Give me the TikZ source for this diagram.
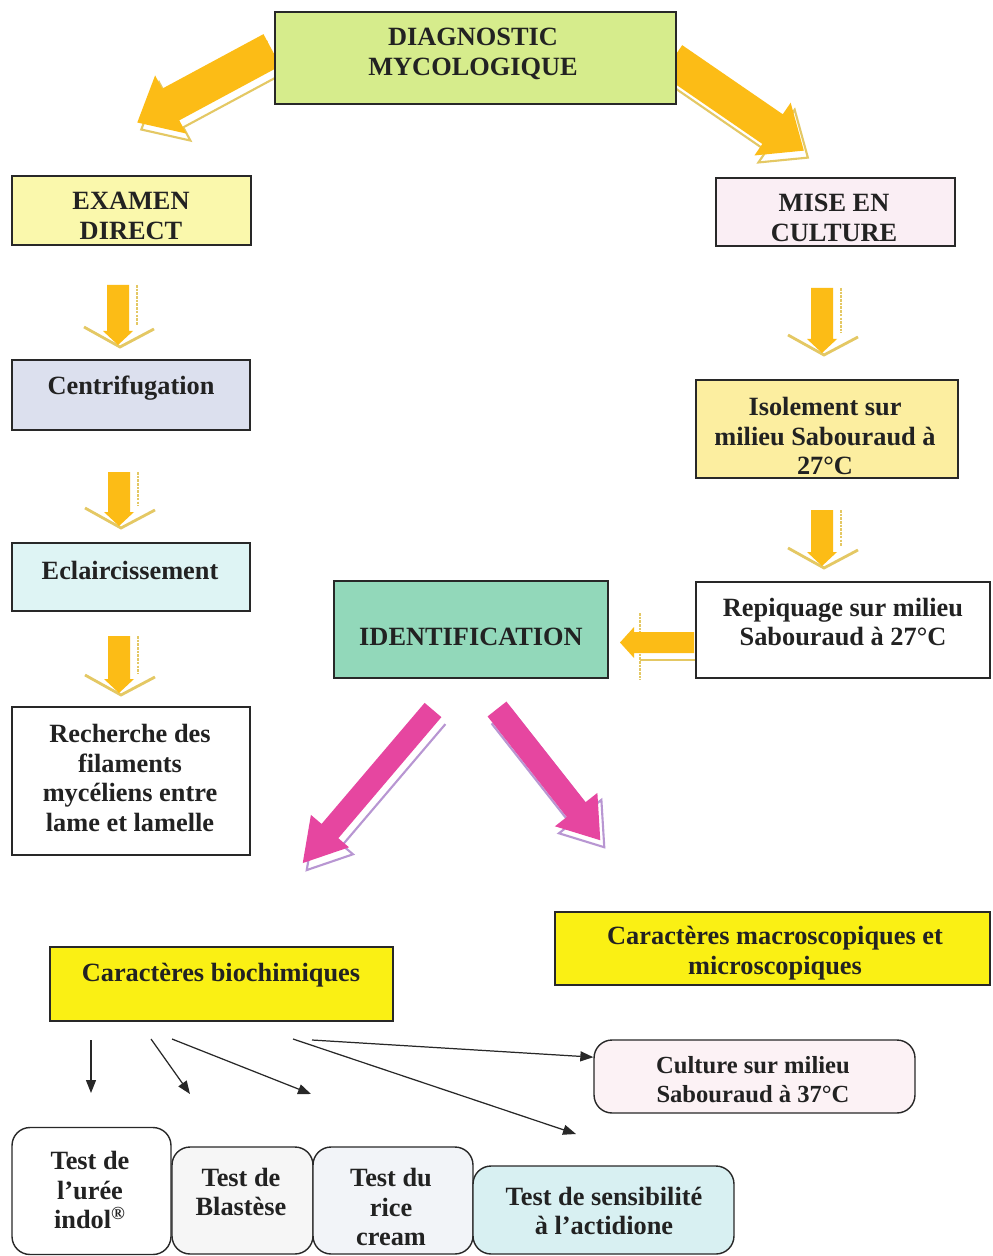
\documentclass[tikz,border=0pt]{standalone}
\usepackage{fontspec}
\setmainfont{Liberation Serif}
\usetikzlibrary{arrows.meta,calc}
\definecolor{cdiag}{RGB}{214,236,140}
\definecolor{cexam}{RGB}{250,248,172}
\definecolor{cmise}{RGB}{250,238,244}
\definecolor{ccent}{RGB}{220,224,238}
\definecolor{cecl}{RGB}{222,244,244}
\definecolor{cisol}{RGB}{252,238,160}
\definecolor{cident}{RGB}{146,216,186}
\definecolor{cyel}{RGB}{250,240,20}
\definecolor{ccult}{RGB}{252,242,245}
\definecolor{cblas}{RGB}{246,246,246}
\definecolor{crice}{RGB}{242,244,248}
\definecolor{csens}{RGB}{216,240,242}
\definecolor{corange}{RGB}{252,188,22}
\definecolor{cshadO}{RGB}{228,200,100}
\definecolor{cpink}{RGB}{230,70,160}
\definecolor{cshadP}{RGB}{184,150,210}
\definecolor{ctext}{RGB}{34,34,34}
\definecolor{cline}{RGB}{40,40,40}
\tikzset{
  box/.style={draw=cline, line width=0.8pt, inner sep=0pt},
  rbox/.style={box, rounded corners=0.36cm},
  txt/.style={font=\fontsize{15}{17}\selectfont\bfseries, align=center, text=ctext, inner sep=0pt},
  txts/.style={txt, font=\fontsize{14}{16.5}\selectfont\bfseries},
  thinarr/.style={draw=cline, line width=0.7pt, -{Triangle[length=0.26cm,width=0.2cm]}},
}
% block arrow: x y angle length shafthalf headhalf headlength fill shadow
\newcommand{\blockarrow}[9]{%
  \begin{scope}[shift={(#1+4,#2+7)},rotate=#3]
    \draw[draw=#9, fill=white, line width=1.2pt] (0,-#5) -- (#4-#7,-#5) -- (#4-#7,-#6) -- (#4,0) -- (#4-#7,#6) -- (#4-#7,#5) -- (0,#5);
  \end{scope}
  \begin{scope}[shift={(#1,#2)},rotate=#3]
    \fill[#8] (0,-#5) -- (#4-#7,-#5) -- (#4-#7,-#6) -- (#4,0) -- (#4-#7,#6) -- (#4-#7,#5) -- (0,#5) -- cycle;
  \end{scope}}
% down arrow: cx ytop ytip
\newcommand{\downarr}[3]{%
  \draw[cshadO, line width=0.8pt, dash pattern=on 1.5pt off 0.6pt] (#1+19,#2) -- (#1+19,#3-20);
  \draw[cshadO, line width=1.6pt] (#1-34,#3-18) -- (#1+2,#3+2) -- (#1+36,#3-16);
  \fill[corange] (#1-11,#2) -- (#1+11,#2) -- (#1+11,#3-14) -- (#1+15,#3-14) -- (#1,#3) -- (#1-15,#3-14) -- (#1-11,#3-14) -- cycle;}
\begin{document}
\begin{tikzpicture}[x=0.02cm, y=-0.02cm]
\useasboundingbox (0,0) rectangle (992,1256);
\fill[white] (0,0) rectangle (992,1256);

% big block arrows
\blockarrow{272}{50}{208.3}{153}{18}{33}{38}{corange}{cshadO}
\blockarrow{672}{60}{-34.5}{160}{18}{32}{38}{corange}{cshadO}
\blockarrow{433}{710}{229.6}{201}{11}{25}{42}{cpink}{cshadP}
\blockarrow{497}{709}{-51.8}{167}{12}{27}{39}{cpink}{cshadP}

% small down arrows
\downarr{118}{285}{345}
\downarr{119}{472}{526}
\downarr{119}{636}{693}
\downarr{822}{288}{353}
\downarr{822}{510}{566}

% left arrow repiquage -> identification
\draw[cshadO, line width=0.8pt, dash pattern=on 1.5pt off 0.6pt] (640,613) -- (640,680);
\draw[cshadO, line width=1.6pt] (640,660) -- (697,660);
\fill[corange] (694,632) -- (694,653) -- (634,653) -- (634,658) -- (620,642.5) -- (634,627) -- (634,632) -- cycle;

% boxes
\node[box, fill=cdiag, minimum width=8.02cm, minimum height=1.84cm] (diag) at (475.5,58) {};
\node[txt] (diagT) at (473,54) {DIAGNOSTIC\\MYCOLOGIQUE};

\node[box, fill=cexam, minimum width=4.78cm, minimum height=1.38cm] (exam) at (131.5,210.5) {};
\node[txt] (examT) at (131,216) {EXAMEN\\DIRECT};

\node[box, fill=cmise, minimum width=4.78cm, minimum height=1.36cm] (mise) at (835.5,212) {};
\node[txt] (miseT) at (834,218) {MISE EN\\CULTURE};

\node[box, fill=ccent, minimum width=4.76cm, minimum height=1.4cm] (cent) at (131,395) {};
\node[txt] (centT) at (131,388) {Centrifugation};

\node[box, fill=cecl, minimum width=4.76cm, minimum height=1.36cm] (ecl) at (131,577) {};
\node[txt] (eclT) at (130,570) {Eclaircissement};

\node[box, fill=white, minimum width=4.76cm, minimum height=2.96cm] (rech) at (131,781) {};
\node[txt] (rechT) at (130,778) {Recherche des\\filaments\\mycéliens entre\\lame et lamelle};

\node[box, fill=cisol, minimum width=5.24cm, minimum height=1.96cm] (isol) at (827,429) {};
\node[txt] (isolT) at (825,436) {Isolement sur\\milieu Sabouraud à\\27°C};

\node[box, fill=cident, minimum width=5.48cm, minimum height=1.94cm] (ident) at (471,629.5) {};
\node[txt] (identT) at (471,637) {IDENTIFICATION};

\node[box, fill=white, minimum width=5.88cm, minimum height=1.92cm] (repi) at (843,630) {};
\node[txt] (repiT) at (843,622) {Repiquage sur milieu\\Sabouraud à 27°C};

\node[box, fill=cyel, minimum width=6.86cm, minimum height=1.48cm] (bioc) at (221.5,984) {};
\node[txt] (biocT) at (221,975) {Caractères biochimiques};

\node[box, fill=cyel, minimum width=8.7cm, minimum height=1.46cm] (macro) at (772.5,948.5) {};
\node[txt] (macroT) at (775,953) {Caractères macroscopiques et\\microscopiques};

\node[rbox, fill=ccult, minimum width=6.42cm, minimum height=1.46cm] (cult) at (754.5,1076.5) {};
\node[txts] (cultT) at (753,1080) {Culture sur milieu\\Sabouraud à 37°C};

\node[rbox, fill=white, minimum width=3.18cm, minimum height=2.54cm] (uree) at (91.5,1191) {};
\node[txt] (ureeT) at (90,1190) {Test de\\l’urée\\indol\textsuperscript{®}};

\node[rbox, fill=cblas, minimum width=2.82cm, minimum height=2.14cm] (blas) at (242.5,1200.5) {};
\node[txt] (blasT) at (241,1192) {Test de\\Blastèse};

\node[rbox, fill=crice, minimum width=3.2cm, minimum height=2.14cm] (rice) at (393,1200.5) {};
\node[txt] (riceT) at (391,1207) {Test du\\rice\\cream};

\node[rbox, fill=csens, minimum width=5.22cm, minimum height=1.76cm] (sens) at (603.5,1210) {};
\node[txt] (sensT) at (604,1211) {Test de sensibilité\\à l’actidione};

% thin arrows from biochimiques
\coordinate (a1s) at (91,1040);
\coordinate (a1e) at (91,1093);
\coordinate (a2s) at (151,1039);
\coordinate (a2e) at (190,1094);
\coordinate (a3s) at (172,1039);
\coordinate (a3e) at (311,1094);
\coordinate (a4s) at (293,1039);
\coordinate (a4e) at (576,1134);
\coordinate (a5s) at (312,1040);
\coordinate (a5e) at ($(cult.north west)!0.24!(cult.south west)$);
\draw[thinarr] (a1s) -- (a1e);
\draw[thinarr] (a2s) -- (a2e);
\draw[thinarr] (a3s) -- (a3e);
\draw[thinarr] (a4s) -- (a4e);
\draw[thinarr] (a5s) -- (a5e);
\end{tikzpicture}
\end{document}
